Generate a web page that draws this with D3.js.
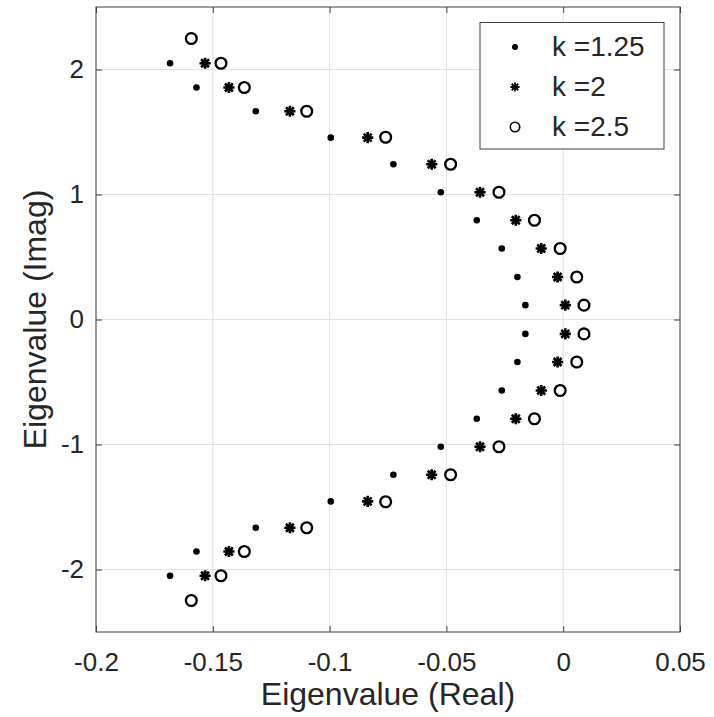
<!DOCTYPE html>
<html>
<head>
<meta charset="utf-8">
<script src="https://cdn.jsdelivr.net/npm/d3@7"></script>
<style>
  body { margin: 0; background: #fff; }
  text { font-family: "Liberation Sans", Arial, sans-serif; fill: #262626; }
</style>
</head>
<body>
<div id="chart"></div>
<script>

// eigenvalues, k = 1.25
const k125Re = [-0.1683, -0.1570, -0.1316, -0.0995, -0.0727, -0.0524, -0.0370, -0.0263, -0.0196, -0.0162,
                -0.0162, -0.0196, -0.0263, -0.0370, -0.0524, -0.0727, -0.0995, -0.1316, -0.1570, -0.1683];
const k125Im = [2.050, 1.856, 1.666, 1.455, 1.242, 1.018, 0.794, 0.568, 0.340, 0.115,
                -0.115, -0.340, -0.568, -0.794, -1.018, -1.242, -1.455, -1.666, -1.856, -2.050];
// eigenvalues, k = 2
const k2Re = [-0.1533, -0.1431, -0.1170, -0.0837, -0.0563, -0.0356, -0.0203, -0.0094, -0.0024, 0.0009,
              0.0009, -0.0024, -0.0094, -0.0203, -0.0356, -0.0563, -0.0837, -0.1170, -0.1431, -0.1533];
const k2Im = [2.050, 1.856, 1.666, 1.455, 1.242, 1.018, 0.794, 0.568, 0.340, 0.115,
              -0.115, -0.340, -0.568, -0.794, -1.018, -1.242, -1.455, -1.666, -1.856, -2.050];
// eigenvalues, k = 2.5
const k25Re = [-0.1592, -0.1465, -0.1365, -0.1098, -0.0760, -0.0482, -0.0275, -0.0123, -0.0013, 0.0058, 0.0089,
               0.0089, 0.0058, -0.0013, -0.0123, -0.0275, -0.0482, -0.0760, -0.1098, -0.1365, -0.1465, -0.1592];
const k25Im = [2.248, 2.050, 1.856, 1.666, 1.458, 1.242, 1.018, 0.794, 0.568, 0.340, 0.115,
               -0.115, -0.340, -0.568, -0.794, -1.018, -1.242, -1.458, -1.666, -1.856, -2.050, -2.248];

const xTicks = [-0.2, -0.15, -0.1, -0.05, 0, 0.05];
const yTicks = [-2, -1, 0, 1, 2];
const legendLabels = ["k =1.25", "k =2", "k =2.5"];

let w = 714, h = 717;
let m = {left: 96, top: 7, right: 34, bottom: 85};
let iw = w - m.left - m.right, ih = h - m.top - m.bottom;

let svg = d3.select("#chart").append("svg")
    .attr("width", w)
    .attr("height", h);

let g = svg.append("g").attr("transform", "translate(" + m.left + "," + m.top + ")");

let x = d3.scaleLinear().domain([-0.2, 0.05]).range([0, iw]);
let y = d3.scaleLinear().domain([-2.5, 2.5]).range([ih, 0]);

// grid
g.append("g").selectAll("line").data(xTicks).enter().append("line")
    .attr("x1", d => x(d)).attr("x2", d => x(d))
    .attr("y1", 0).attr("y2", ih)
    .attr("stroke", "#e2e2e2");
g.append("g").selectAll("line").data(yTicks).enter().append("line")
    .attr("y1", d => y(d)).attr("y2", d => y(d))
    .attr("x1", 0).attr("x2", iw)
    .attr("stroke", "#e2e2e2");

// axes, ticks inside on all four sides
const styleAxis = sel => {
    sel.select(".domain").remove();
    sel.selectAll("line").attr("stroke", "#404040");
    sel.selectAll("text").style("font-size", "26px").attr("fill", "#262626");
};
g.append("g").attr("transform", "translate(0," + ih + ")")
    .call(d3.axisBottom(x).tickValues(xTicks).tickSize(-6).tickPadding(21).tickFormat(d => String(d)))
    .call(styleAxis);
g.append("g")
    .call(d3.axisLeft(y).tickValues(yTicks).tickSize(-6).tickPadding(12).tickFormat(d => String(d)))
    .call(styleAxis);
g.append("g")
    .call(d3.axisTop(x).tickValues(xTicks).tickSize(-6).tickFormat(""))
    .call(styleAxis);
g.append("g").attr("transform", "translate(" + iw + ",0)")
    .call(d3.axisRight(y).tickValues(yTicks).tickSize(-6).tickFormat(""))
    .call(styleAxis);

g.append("rect")
    .attr("width", iw).attr("height", ih)
    .attr("fill", "none").attr("stroke", "#404040");

// markers
const starPath = r => {
    let a = r * 0.7071;
    return "M" + (-r) + ",0L" + r + ",0M0," + (-r) + "L0," + r +
        "M" + (-a) + "," + (-a) + "L" + a + "," + a + "M" + (-a) + "," + a + "L" + a + "," + (-a);
};

g.append("g").selectAll("circle").data(k125Re).enter().append("circle")
    .attr("cx", d => x(d))
    .attr("cy", (d, i) => y(k125Im[i]))
    .attr("r", 3.3)
    .attr("fill", "#000");

g.append("g").selectAll("path").data(k2Re).enter().append("path")
    .attr("transform", (d, i) => "translate(" + x(d) + "," + y(k2Im[i]) + ")")
    .attr("d", starPath(5.6))
    .attr("stroke", "#000")
    .attr("stroke-width", 2.6)
    .attr("fill", "none");

g.append("g").selectAll("circle").data(k25Re).enter().append("circle")
    .attr("cx", d => x(d))
    .attr("cy", (d, i) => y(k25Im[i]))
    .attr("r", 5.4)
    .attr("stroke", "#000")
    .attr("stroke-width", 2.3)
    .attr("fill", "none");

// legend
let lg = svg.append("g").attr("transform", "translate(480,22.5)");
lg.append("rect")
    .attr("width", 184).attr("height", 126.5)
    .attr("fill", "#fff").attr("stroke", "#404040");
lg.append("circle").attr("cx", 35).attr("cy", 24.5).attr("r", 3).attr("fill", "#000");
lg.append("path").attr("transform", "translate(35,64.5)")
    .attr("d", starPath(4.6)).attr("stroke", "#000").attr("stroke-width", 1.8);
lg.append("circle").attr("cx", 35).attr("cy", 104.5).attr("r", 4.7)
    .attr("fill", "none").attr("stroke", "#000").attr("stroke-width", 1.6);
lg.selectAll("text.lab").data(legendLabels).enter().append("text")
    .attr("class", "lab")
    .attr("x", 72)
    .attr("y", (d, i) => 33.5 + i * 40)
    .style("font-size", "28px")
    .text(d => d);

// axis labels
svg.append("text")
    .attr("x", m.left + iw / 2).attr("y", 705)
    .attr("text-anchor", "middle")
    .style("font-size", "32px")
    .text("Eigenvalue (Real)");
svg.append("text")
    .attr("transform", "translate(46," + (m.top + ih / 2) + ") rotate(-90)")
    .attr("text-anchor", "middle")
    .style("font-size", "32px")
    .text("Eigenvalue (Imag)");

</script>
</body>
</html>
